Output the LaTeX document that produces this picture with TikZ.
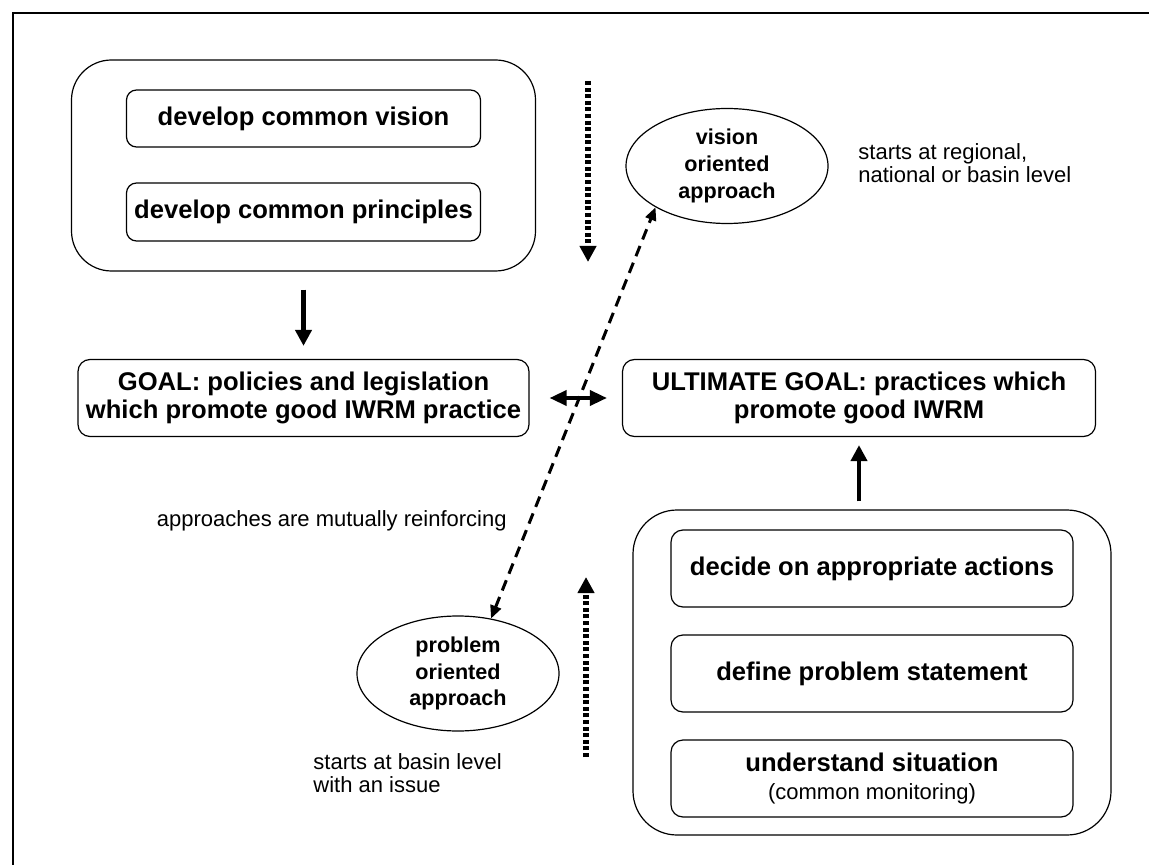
\documentclass[tikz,border=0pt]{standalone}
\usepackage{fontspec}
\setmainfont{Liberation Sans}
\usetikzlibrary{arrows.meta,shapes.geometric}

\tikzset{
  grp/.style={draw, line width=0.6pt, inner sep=0pt},
  boxb/.style={draw, line width=0.6pt, rounded corners=6pt, align=center, inner sep=0pt,
    font=\fontsize{12.8}{14}\selectfont\bfseries},
  oval/.style={draw, ellipse, line width=0.6pt, minimum width=101pt, minimum height=57.5pt,
    inner sep=0pt, align=center, font=\fontsize{10.8}{13.3}\selectfont\bfseries},
  note/.style={align=left, inner sep=0pt, font=\fontsize{11}{11.5}\selectfont},
  solidarr/.style={-{Triangle[length=8pt,width=8pt]}, line width=2.3pt},
  dotarr/.style={-{Triangle[length=8pt,width=8pt]}, line width=2.9pt, dash pattern=on 2pt off 1.3pt},
  dasharr/.style={{Triangle[length=6.5pt,width=5.5pt]}-{Triangle[length=6.5pt,width=5.5pt]}, line width=1.5pt,
    dash pattern=on 5.5pt off 3.5pt}
}

\begin{document}
\begin{tikzpicture}[x=0.5pt,y=-0.5pt]
    \path[use as bounding box] (0,0) rectangle (1149,865);
    % frame
    \draw[line width=1pt] (13,865) -- (13,13) -- (1149,13);

    % vision side
    \node[grp, rounded corners=20pt, minimum width=232pt, minimum height=105.5pt] (grpvis) at (303.5,165.5) {};
    \node[boxb, rounded corners=5pt, minimum width=177pt, minimum height=28.5pt] (vision) at (303.5,118.5) {develop common vision};
    \node[boxb, rounded corners=5pt, minimum width=177pt, minimum height=29pt] (princ) at (303.5,212) {develop common principles};

    % the two goals
    \node[boxb, minimum width=225.5pt, minimum height=38.5pt] (goal) at (303.5,398) {GOAL: policies and legislation\\which promote good IWRM practice};
    \node[boxb, minimum width=236.5pt, minimum height=38.5pt] (ult) at (859,398) {ULTIMATE GOAL: practices which\\promote good IWRM};

    % problem side
    \node[grp, rounded corners=22pt, minimum width=239pt, minimum height=162.5pt] (grpact) at (872,672.5) {};
    \node[boxb, minimum width=201pt, minimum height=38.5pt] (decide) at (872,568.5) {decide on appropriate actions};
    \node[boxb, minimum width=201pt, minimum height=38.5pt] (define) at (872,673.5) {define problem statement};
    \node[boxb, minimum width=201pt, minimum height=38.5pt] (underst) at (872,778.5) {understand situation\\{\mdseries\fontsize{11}{14}\selectfont(common monitoring)}};

    % approaches
    \node[oval] (vis) at (727,166) {vision\\oriented\\approach};
    \node[oval] (prob) at (458,673.5) {problem\\oriented\\approach};

    \node[note, anchor=west] (visnote) at (858,163) {starts at regional,\\national or basin level};
    \node[note, anchor=east] (mutual) at (507,521) {approaches are mutually reinforcing};
    \node[note, anchor=west] (probnote) at (313,773) {starts at basin level\\with an issue};

    % arrows
    \draw[solidarr, shorten <=9pt, shorten >=6.5pt] (grpvis.south) -- (goal.north);
    \draw[solidarr, shorten <=4pt, shorten >=4pt] (grpact.north -| ult.south) -- (ult.south);
    \draw[{Triangle[length=8.5pt,width=7.5pt]}-{Triangle[length=8.5pt,width=7.5pt]}, line width=1.8pt,
        shorten <=10pt, shorten >=7.5pt] (goal.east) -- (ult.west);
    \draw[dasharr] (prob.59) -- (vis.210);

    \coordinate (dtop) at (588,81);
    \coordinate (dbot) at (588,262);
    \draw[dotarr] (dtop) -- (dbot);
    \coordinate (ubot) at (586,757);
    \coordinate (utop) at (586,577);
    \draw[dotarr] (ubot) -- (utop);
\end{tikzpicture}
\end{document}
